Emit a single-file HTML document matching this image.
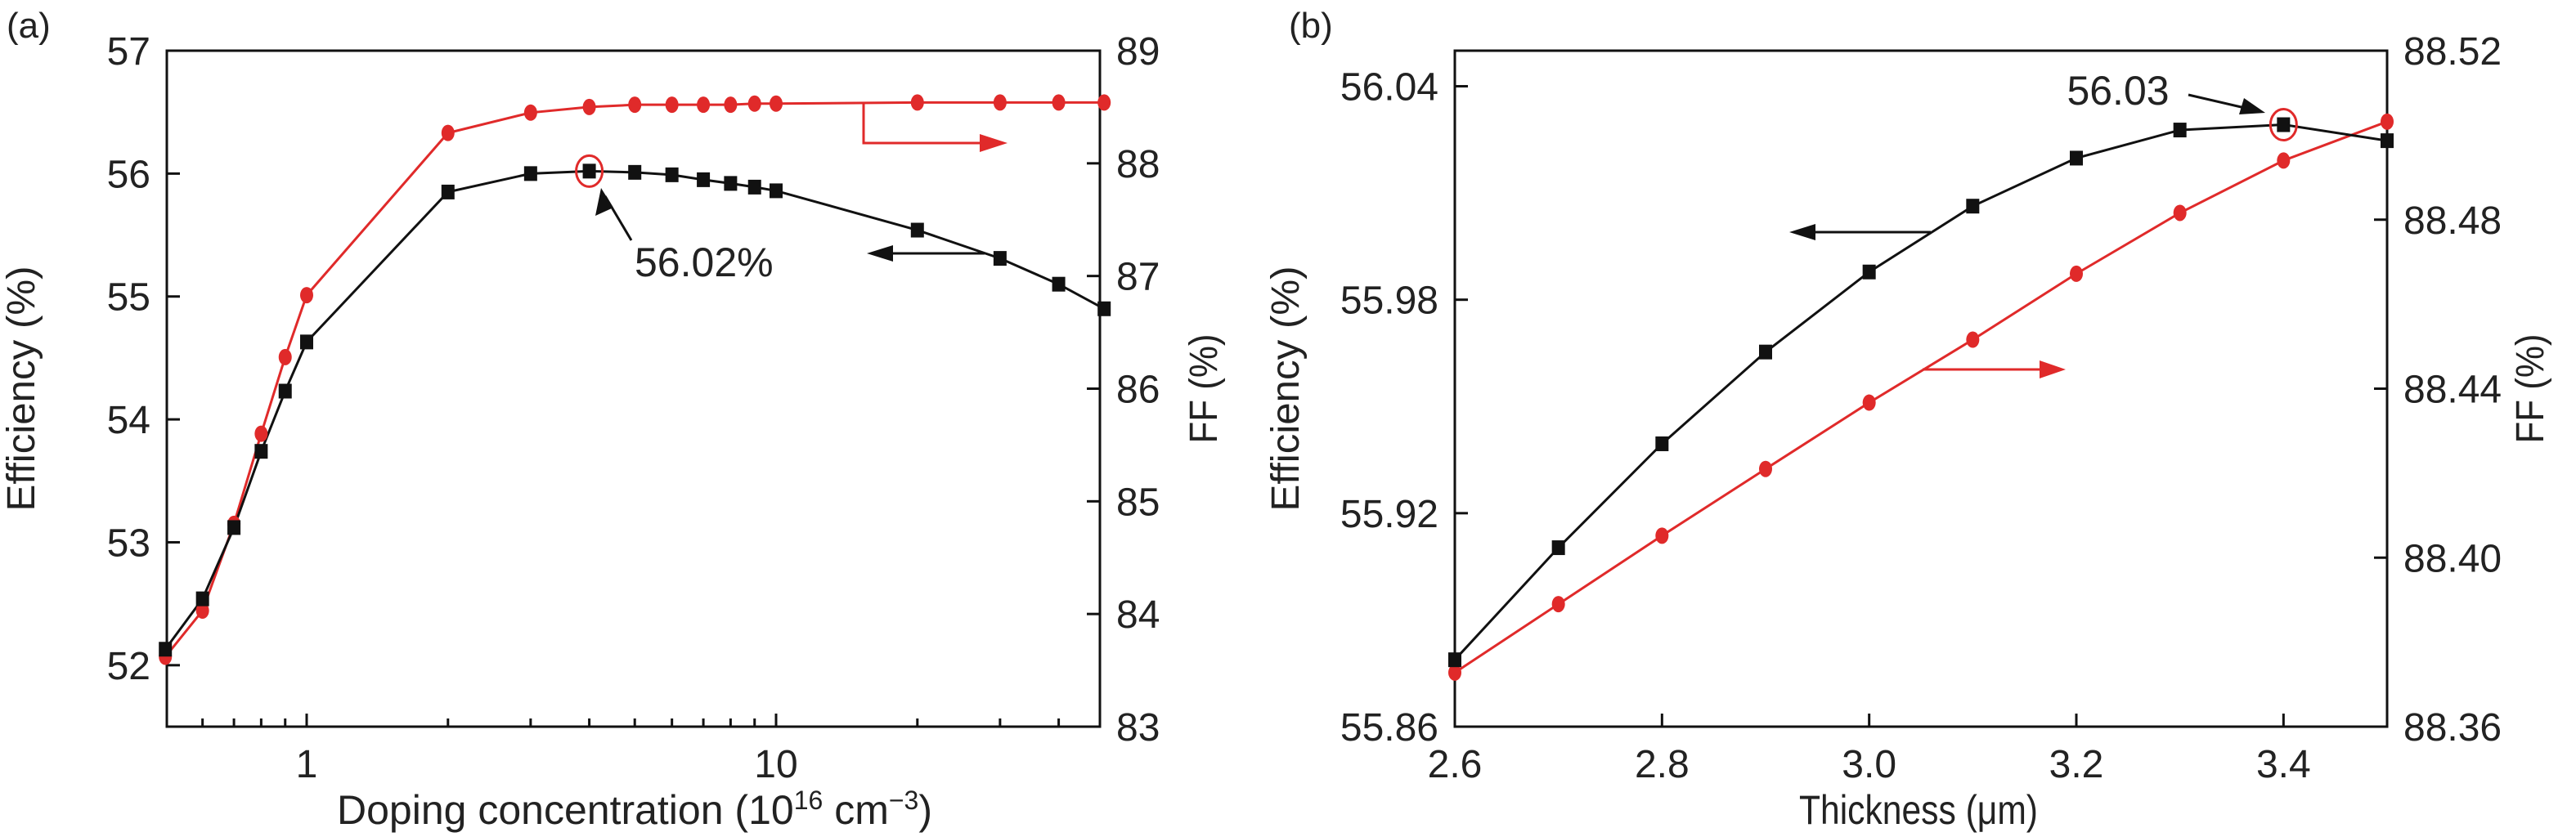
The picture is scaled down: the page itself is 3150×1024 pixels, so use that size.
<!DOCTYPE html>
<html><head><meta charset="utf-8"><style>
html,body{margin:0;padding:0;background:#fff;}
svg{display:block;font-family:"Liberation Sans",sans-serif;}
</style></head><body>
<svg id="chart" width="3150" height="1024" viewBox="0 0 3150 1024" xmlns="http://www.w3.org/2000/svg"></svg>
<script>
// Panel (a) data
const dopingX = [0.5,0.6,0.7,0.8,0.9,1,2,3,4,5,6,7,8,9,10,20,30,40,50];
const dopingEff = [52.13,52.54,53.12,53.74,54.23,54.63,55.85,56.0,56.02,56.01,55.99,55.95,55.92,55.89,55.86,55.54,55.31,55.10,54.90];
const dopingFF = [83.62,84.03,84.80,85.60,86.28,86.83,88.27,88.45,88.50,88.52,88.52,88.52,88.52,88.53,88.53,88.54,88.54,88.54,88.54];
const aLeftTicks = [52,53,54,55,56,57];
const aRightTicks = [83,84,85,86,87,88,89];
const aXTicks = [1,10];
// Panel (b) data
const thickX = [2.6,2.7,2.8,2.9,3.0,3.1,3.2,3.3,3.4,3.5];
const thickEff = [55.8788,55.9103,55.9395,55.9653,55.9878,56.0063,56.0198,56.0277,56.0292,56.0247];
const thickFF = [88.3728,88.389,88.4052,88.421,88.4367,88.4516,88.4672,88.4816,88.494,88.5032];
const bLeftTicks = ["55.86","55.92","55.98","56.04"];
const bRightTicks = ["88.36","88.40","88.44","88.48","88.52"];
const bXTicks = ["2.6","2.8","3.0","3.2","3.4"];

const NS="http://www.w3.org/2000/svg";
const svg=document.getElementById('chart');
function mk(tag,attrs,parent){const e=document.createElementNS(NS,tag);for(const k in attrs)e.setAttribute(k,attrs[k]);(parent||svg).appendChild(e);return e;}
function txt(s,attrs,parent){const e=mk('text',attrs,parent);e.textContent=s;return e;}

const RED="#e02a2a";

function panel(o){
  const g=mk('g',{});
  
  
  const {L,R,T,B}=o;
  const fr=mk('rect',{x:L,y:T,width:R-L,height:B-T,fill:'none',stroke:'#111','stroke-width':3},g);
  
  o.leftTicks.forEach(t=>{const y=o.yL(+t);
    mk('line',{x1:L,x2:L+16,y1:y,y2:y,stroke:'#111','stroke-width':3},g);
    const e=txt(t,{x:L-20,y:y+17,'text-anchor':'end','font-size':48,fill:'#222'},g);
    });
  o.rightTicks.forEach(t=>{const y=o.yR(+t);
    mk('line',{x1:R,x2:R-16,y1:y,y2:y,stroke:'#111','stroke-width':3},g);
    const e=txt(t,{x:R+20,y:y+17,'text-anchor':'start','font-size':48,fill:'#222'},g);
    });
  o.xTicks.forEach(t=>{const x=o.x(+t);
    mk('line',{x1:x,x2:x,y1:B,y2:B-16,stroke:'#111','stroke-width':3},g);
    const e=txt(t,{x:x,y:B+62,'text-anchor':'middle','font-size':48,fill:'#222'},g);
    });
  (o.minor||[]).forEach(t=>{const x=o.x(t);mk('line',{x1:x,x2:x,y1:B,y2:B-10,stroke:'#111','stroke-width':3},g);});
  const pr=o.xs.map((v,i)=>o.x(v)+','+o.yR(o.ff[i])).join(' ');
  const lr=mk('polyline',{points:pr,fill:'none',stroke:RED,'stroke-width':3},g);
  
  const pb=o.xs.map((v,i)=>o.x(v)+','+o.yL(o.eff[i])).join(' ');
  const lb=mk('polyline',{points:pb,fill:'none',stroke:'#111','stroke-width':3},g);
  
  o.xs.forEach((v,i)=>{
    const c=mk('ellipse',{cx:o.x(v),cy:o.yR(o.ff[i]),rx:8,ry:10,fill:RED},g);
    
    const s=mk('rect',{x:o.x(v)-8,y:o.yL(o.eff[i])-9,width:16,height:18,fill:'#111'},g);
    
  });
  const yt=txt('Efficiency (%)',{x:0,y:0,transform:`translate(${o.ytX},${(T+B)/2}) rotate(-90)`,'text-anchor':'middle','font-size':48,textLength:300,lengthAdjust:'spacingAndGlyphs',fill:'#222'},g);
  
  const rt=txt('FF (%)',{x:0,y:0,transform:`translate(${o.rtX},${(T+B)/2}) rotate(-90)`,'text-anchor':'middle','font-size':48,textLength:134,lengthAdjust:'spacingAndGlyphs',fill:'#222'},g);
  
  const lab=txt(o.label,{x:o.labX,y:46,'font-size':44,fill:'#222'},g);
  
  return g;
}

// Panel a
const aL=204,aR=1345,aT=62,aB=889;
const ax=v=>375+574*Math.log10(v);
const ayL=v=>aB-(v-51.5)/(57-51.5)*(aB-aT);
const ayR=v=>aB-(v-83)/6*(aB-aT);
const minorA=[0.6,0.7,0.8,0.9,2,3,4,5,6,7,8,9,20,30,40];
const ga=panel({name:'panel-a',L:aL,R:aR,T:aT,B:aB,x:ax,yL:ayL,yR:ayR,xs:dopingX,eff:dopingEff,ff:dopingFF,
  leftTicks:aLeftTicks.map(String),rightTicks:aRightTicks.map(String),xTicks:aXTicks.map(String),minor:minorA,
  ytX:42,rtX:1488,label:'(a)',labX:8});
const xtA=mk('text',{x:776,y:1008,'text-anchor':'middle','font-size':50,fill:'#222'},ga);

xtA.innerHTML='Doping concentration (10<tspan dy="-18" font-size="32">16</tspan><tspan dy="18"> cm</tspan><tspan dy="-18" font-size="32">−3</tspan><tspan dy="18">)</tspan>';
const ca=mk('ellipse',{cx:ax(4),cy:ayL(56.02),rx:16,ry:19,fill:'none',stroke:RED,'stroke-width':3},ga);

const aa=mk('line',{x1:772,y1:294,x2:740,y2:240,stroke:'#111','stroke-width':3},ga);

mk('path',{d:'M735,230 L728,264 L750,254 Z',fill:'#111'},ga);
const ta=txt('56.02%',{x:776,y:338,'font-size':50,fill:'#222'},ga);

mk('line',{x1:1204,y1:310,x2:1085,y2:310,stroke:'#111','stroke-width':3},ga);
const ahA=mk('path',{d:'M1060,310 L1092,300 L1092,320 Z',fill:'#111'},ga);

mk('polyline',{points:'1056,127 1056,175 1205,175',fill:'none',stroke:RED,'stroke-width':3},ga);
const ahA2=mk('path',{d:'M1232,175 L1198,164 L1198,186 Z',fill:RED},ga);


// Panel b
const bL=1779,bR=2919,bT=62,bB=889;
const bx=v=>bL+(v-2.6)/0.9*(bR-bL);
const byL=v=>bB-(v-55.86)/(56.05-55.86)*(bB-bT);
const byR=v=>bB-(v-88.36)/0.16*(bB-bT);
const gb=panel({name:'panel-b',L:bL,R:bR,T:bT,B:bB,x:bx,yL:byL,yR:byR,xs:thickX,eff:thickEff,ff:thickFF,
  leftTicks:bLeftTicks,rightTicks:bRightTicks,xTicks:bXTicks,ytX:1588,rtX:3110,label:'(b)',labX:1576});
const xtB=txt('Thickness (μm)',{x:2346,y:1008,'text-anchor':'middle','font-size':50,textLength:292,lengthAdjust:'spacingAndGlyphs',fill:'#222'},gb);

const cb=mk('ellipse',{cx:bx(3.4),cy:byL(56.0292),rx:16,ry:19,fill:'none',stroke:RED,'stroke-width':3},gb);

mk('line',{x1:2676,y1:116,x2:2745,y2:132,stroke:'#111','stroke-width':3},gb);
const ab=mk('path',{d:'M2770,138 L2738,140 L2744,120 Z',fill:'#111'},gb);

const tb=txt('56.03',{x:2590,y:128,'text-anchor':'middle','font-size':50,fill:'#222'},gb);

mk('line',{x1:2361,y1:284,x2:2212,y2:284,stroke:'#111','stroke-width':3},gb);
const ahB=mk('path',{d:'M2188,284 L2220,274 L2220,294 Z',fill:'#111'},gb);

mk('line',{x1:2351,y1:452,x2:2500,y2:452,stroke:RED,'stroke-width':3},gb);
const ahB2=mk('path',{d:'M2526,452 L2494,441 L2494,463 Z',fill:RED},gb);

</script>
</body></html>
